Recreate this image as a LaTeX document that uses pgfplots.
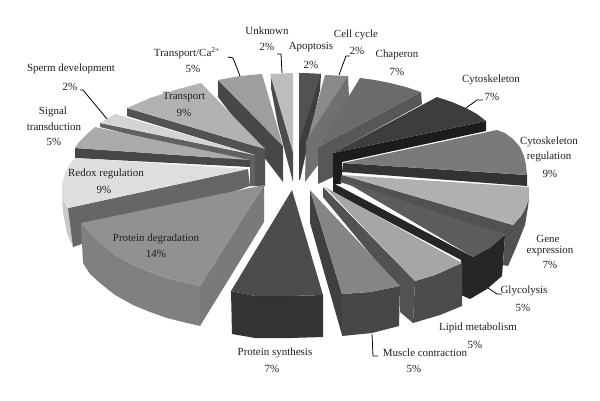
\documentclass[border=0pt]{standalone}
\usepackage{fontspec}
\setmainfont{Liberation Serif}
\usepackage{pgfplots}
\pgfplotsset{compat=1.18}
% one filled face of the pie, vertices in picture pixels
\newcommand{\face}[2]{\addplot[fill=black!#1,draw=none,forget plot] coordinates {#2} -- cycle;}
\newcommand{\lead}[1]{\addplot[black,line width=0.8pt,forget plot] coordinates {#1};}
\newcommand{\lab}[3]{\node[font=\fontsize{11}{13}\selectfont,text=black!88,inner sep=0pt,align=center] at (axis cs:#1,#2) {#3};}
\begin{document}
\begin{tikzpicture}
\begin{axis}[
    scale only axis, width=600bp, height=400bp,
    xmin=0, xmax=600, ymin=0, ymax=400, y dir=reverse,
    hide axis, clip=false,
]
    % keep the page at the full 600x400 frame
    \path (axis cs:0,0) rectangle (axis cs:600,400);
    % Apoptosis
    \face{76}{(299,73) (321,74) (320,90) (300,180) (299,180)}
    \face{68}{(299,73) (321,74) (299,143)}
    % Cell cycle
    \face{46}{(325,75) (348,76) (307,141)}
    \face{56}{(348,76) (349,97) (318,147) (318,165) (305,182) (306,141)}
    % Chaperon
    \face{66}{(318,147) (421,92) (422,104) (333,153) (333,177) (318,184)}
    \face{58}{(360,78) (375,80) (390,83) (406,87) (421,92) (318,147)}
    % Cytoskeleton
    \face{89}{(333,153) (486,121) (486,131) (342,162) (342,172) (341,184) (333,184)}
    \face{76}{(333,153) (437,97) (452,102) (466,108) (477,114) (486,121)}
    % Cytoskeleton regulation
    \face{80}{(343,163) (527,175) (527,186) (342,172)}
    \face{52}{(343,163) (497,130) (505,133) (513,139) (520,147) (524,156) (526,165) (527,175)}
    % Gene expression
    \face{68}{(342,175) (513,225) (521,216) (526,207) (529,197) (528,207) (525,225) (515,250) (508,266) (503,265) (505,235) (340,182)}
    \face{31}{(342,175) (529,187) (529,197) (526,207) (521,216) (513,225)}
    % Glycolysis
    \face{85}{(333,183) (333,192) (461,260) (461,295) (470,299) (487,289) (502,276) (505,235) (473,257)}
    \face{64}{(342,180) (505,235) (490,248) (473,257)}
    % Lipid metabolism
    \face{68}{(323,187) (323,197) (400,290) (400,312) (413,323) (415,281)}
    \face{70}{(415,281) (435,275) (462,263) (462,306) (440,315) (413,323)}
    \face{35}{(325,187) (415,281) (435,275) (462,263)}
    % Muscle contraction
    \face{75}{(310,190) (310,223) (342,335) (342,294)}
    \face{72}{(342,294) (370,292) (400,286) (399,326) (372,333) (342,336)}
    \face{48}{(310,190) (342,294) (370,292) (400,286)}
    % Unknown
    \face{70}{(271,75) (293,152) (293,182) (278,125) (271,88)}
    \face{26}{(270,74) (293,73) (293,152)}
    % Transport/Ca2+
    \face{72}{(218,80) (283,146) (283,182) (218,97)}
    \face{38}{(218,80) (240,76) (262,74) (283,146)}
    % Transport
    \face{68}{(127,108) (265,149) (265,186) (255,186) (255,155) (127,116)}
    \face{30}{(127,108) (150,98) (175,90) (201,83) (265,149)}
    % Sperm development
    \face{62}{(100,123) (255,155) (255,186) (250,186) (250,165) (100,127)}
    \face{17}{(100,123) (115,114) (255,155)}
    % Signal transduction
    \face{72}{(75,148) (250,160) (250,167) (75,158)}
    \face{33}{(75,148) (79,142) (85,136) (95,127) (250,160)}
    % Redox regulation
    \face{21}{(62,196) (64,202) (68,208) (73,247) (67,233) (63,212)}
    \face{60}{(68,208) (248,169) (250,186) (73,247)}
    \face{13}{(75,158) (70,164) (65,173) (62,184) (62,196) (64,202) (68,208) (248,169)}
    % Protein degradation
    \face{50}{(81,223) (90,234) (100,243) (115,255) (133,265) (150,272) (167,278) (183,282) (200,286) (200,326) (183,322) (167,318) (150,312) (133,305) (115,295) (100,283) (90,274) (83,263)}
    \face{52}{(264,185) (264,222) (200,326) (200,286)}
    \face{43}{(81,223) (264,185) (200,286) (183,282) (167,278) (150,272) (133,265) (115,255) (100,243) (90,234)}
    % Protein synthesis
    \face{80}{(231,291) (255,296) (290,296) (323,295) (323,337) (290,338) (255,338) (232,334)}
    \face{70}{(292,190) (231,291) (255,296) (290,296) (323,295)}

    % leader lines
    \lead{(277,54) (281,54) (282,73)}
    \lead{(228,57) (233,58) (240,76)}
    \lead{(80,90) (83,90) (107,119)}
    \lead{(350,56) (346,56) (339,75)}
    \lead{(483,100) (477,100) (466,108)}
    \lead{(488,288) (497,294) (502,294)}
    \lead{(372,334) (373,356) (378,356)}

    % labels
    \lab{267}{31}{Unknown} \lab{267}{47}{2\%}
    \lab{311}{47}{Apoptosis} \lab{311}{65}{2\%}
    \lab{356}{35}{Cell cycle} \lab{357}{51}{2\%}
    \lab{397}{55}{Chaperon} \lab{397}{72}{7\%}
    \lab{491}{80}{Cytoskeleton} \lab{492}{97}{7\%}
    \lab{549}{142}{Cytoskeleton} \lab{549}{157}{regulation} \lab{550}{174}{9\%}
    \lab{548}{239}{Gene} \lab{550}{251}{expression} \lab{550}{265}{7\%}
    \lab{524}{291}{Glycolysis} \lab{523}{308}{5\%}
    \lab{478}{328}{Lipid metabolism} \lab{475}{345}{5\%}
    \lab{425}{353}{Muscle contraction} \lab{414}{369}{5\%}
    \lab{275}{353}{Protein synthesis} \lab{272}{369}{7\%}
    \lab{156}{239}{Protein degradation} \lab{156}{254}{14\%}
    \lab{106}{174}{Redox regulation} \lab{104}{190}{9\%}
    \lab{53}{112}{Signal} \lab{54}{127}{transduction} \lab{54}{142}{5\%}
    \lab{71}{69}{Sperm development} \lab{70}{87}{2\%}
    \lab{184}{97}{Transport} \lab{184}{113}{9\%}
    \lab{187}{53}{Transport/Ca\textsuperscript{2+}} \lab{193}{69}{5\%}
\end{axis}
\end{tikzpicture}
\end{document}
